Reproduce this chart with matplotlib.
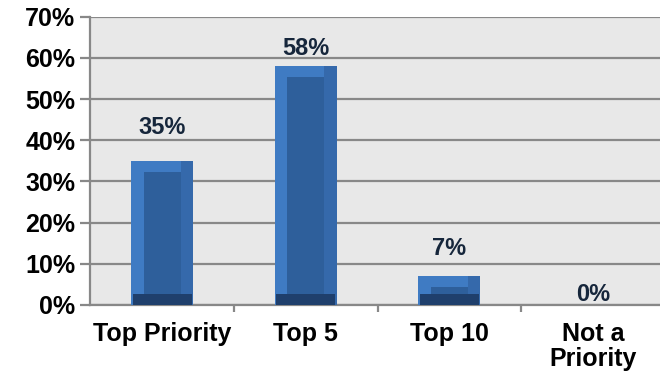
import matplotlib.pyplot as plt
import numpy as np

# chart data
categories = ["Top Priority", "Top 5", "Top 10", "Not a\nPriority"]
values = [35, 58, 7, 0]
value_labels = ["35%", "58%", "7%", "0%"]
label_lift = [8.0, 4.3, 6.6, 2.6]  # where excel put the data labels, in % above bar
y_ticks = [0, 10, 20, 30, 40, 50, 60, 70]

plt.rcParams['font.family'] = ['Liberation Sans', 'DejaVu Sans']

fig = plt.figure(figsize=(6.6, 3.83), dpi=100)
ax = fig.add_axes([0.137, 0.204, 0.87, 0.752])
ax.set_facecolor('#e8e8e8')

x = np.arange(len(categories))
vals = np.array(values, dtype=float)
w = 0.43
bev = 2.6  # bevel depth in %
bw = 0.085  # side bevel in slot units

# outer (light rim) bars
ax.bar(x, vals, width=w, color='#3f7bc3', edgecolor='none', zorder=3)
# right rim a bit darker
ax.bar(x + w / 2 - bw / 2, vals, width=bw, color='#3569ab', edgecolor='none', zorder=3.5)
# middle face
inner_h = np.clip(vals - 2 * bev, 0, None)
ax.bar(x, inner_h, width=w - 2 * bw, bottom=bev, color='#2e5f9b', edgecolor='none', zorder=4)
# dark bottom strip
ax.bar(x, np.minimum(vals, bev), width=w - 0.02, color='#1f3f6c', edgecolor='none', zorder=4)

for xi, v, lab, lift in zip(x, values, value_labels, label_lift):
    ax.text(xi, v + lift, lab, ha='center', va='center', fontsize=17, fontweight='bold',
            color='#16263b', zorder=5)

ax.set_xlim(-0.5, len(categories) - 0.5)
ax.set_ylim(0, 70)
ax.set_yticks(y_ticks)
ax.set_yticklabels([f"{t}%" for t in y_ticks], fontsize=18, fontweight='bold')
ax.yaxis.grid(True, color='#888888', linewidth=1.6, zorder=1)
ax.set_axisbelow(True)

ax.set_xticks(x)
ax.set_xticklabels(categories, fontsize=18, fontweight='bold', linespacing=1.1)
ax.set_xticks(x[:-1] + 0.5, minor=True)
ax.tick_params(axis='x', which='major', length=0, pad=12)
ax.tick_params(axis='x', which='minor', length=5, width=1.6, color='#888888')
ax.tick_params(axis='y', length=7, width=1.6, color='#888888', pad=4)

for s in ['top', 'right']:
    ax.spines[s].set_visible(False)
for s in ['left', 'bottom']:
    ax.spines[s].set_color('#888888')
    ax.spines[s].set_linewidth(1.6)

fig.savefig('out.png', dpi=100)
